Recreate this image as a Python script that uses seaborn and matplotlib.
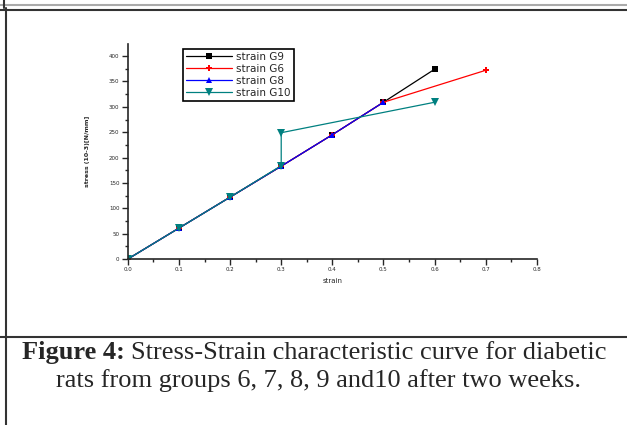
import matplotlib
matplotlib.use("Agg")
import matplotlib.pyplot as plt
import seaborn as sns
import pandas as pd
from matplotlib.lines import Line2D
from matplotlib.ticker import MultipleLocator

sns.set_style("ticks")
plt.rcParams['font.family'] = ['DejaVu Sans']

# data
strain_g9 = [0.0, 0.1, 0.2, 0.3, 0.4, 0.5, 0.6]
stress_g9 = [0, 61, 122, 183, 245, 309, 374]
strain_g6 = [0.0, 0.1, 0.2, 0.3, 0.4, 0.5, 0.7]
stress_g6 = [0, 61, 122, 183, 245, 309, 372]
strain_g8 = [0.0, 0.1, 0.2, 0.3, 0.4, 0.5]
stress_g8 = [0, 61, 122, 183, 245, 309]
strain_g10 = [0.0, 0.1, 0.2, 0.3, 0.3, 0.6]
stress_g10 = [0, 61, 122, 184, 249, 309]

labels = ["strain G9", "strain G6", "strain G8", "strain G10"]
series = [(strain_g9, stress_g9), (strain_g6, stress_g6), (strain_g8, stress_g8), (strain_g10, stress_g10)]
colors = ["#000000", "#ff0000", "#0000ff", "#008080"]
markers = ["s", "P", "^", "v"]
msizes = [4, 4, 5, 6]

fig = plt.figure(figsize=(6.27, 4.25), dpi=100)
ax = fig.add_axes([0.204, 0.3906, 0.652, 0.506])

for (xs, ys), lab, c, m, ms in zip(series, labels, colors, markers, msizes):
    df = pd.DataFrame({"strain": xs, "stress": ys})
    sns.lineplot(data=df, x="strain", y="stress", ax=ax, estimator=None, sort=False,
                 color=c, marker=m, markersize=ms, markeredgewidth=0, linewidth=0.9, label=lab)

ax.set_xlim(0, 0.8)
ax.set_ylim(0, 424)
ax.xaxis.set_major_locator(MultipleLocator(0.1))
ax.xaxis.set_minor_locator(MultipleLocator(0.05))
ax.yaxis.set_major_locator(MultipleLocator(50))
ax.yaxis.set_minor_locator(MultipleLocator(25))
ax.set_xticklabels([f"{v:.1f}" for v in ax.get_xticks()])
ax.tick_params(axis='both', which='major', labelsize=4, length=4, width=1, direction='out', pad=2)
ax.tick_params(axis='both', which='minor', length=2.5, width=1, direction='out')
for s in ['left', 'bottom']:
    ax.spines[s].set_linewidth(1.2)
sns.despine(ax=ax)
ax.set_xlabel("strain", fontsize=5, labelpad=4)
ax.set_ylabel("stress (10-3)[N/mm]", fontsize=4.5, fontweight='bold', labelpad=14)

leg = ax.legend(loc='upper left', bbox_to_anchor=(0.135, 0.978), fontsize=7.5, frameon=True,
                fancybox=False, edgecolor='black', framealpha=1, handlelength=4.4,
                borderpad=0.3, labelspacing=0.2, handletextpad=0.4, borderaxespad=0)
leg.get_frame().set_linewidth(1.2)

# page frame lines
fig.add_artist(Line2D([0, 1], [1 - 5/425, 1 - 5/425], color='#aaaaaa', lw=1.5, transform=fig.transFigure))
fig.add_artist(Line2D([0, 1], [1 - 10/425, 1 - 10/425], color='#333333', lw=1.5, transform=fig.transFigure))
fig.add_artist(Line2D([6/627, 6/627], [0, 1 - 8/425], color='#333333', lw=1.5, transform=fig.transFigure))
fig.add_artist(Line2D([4/627, 4/627], [1 - 8/425, 1], color='#333333', lw=1.5, transform=fig.transFigure))
fig.add_artist(Line2D([0, 1], [1 - 337/425, 1 - 337/425], color='#333333', lw=1.5, transform=fig.transFigure))

serif = ['Liberation Serif', 'DejaVu Serif']
fs = 19
t1 = fig.text(22/627, 1 - 353/425, "Figure 4:", family=serif, fontweight='bold', fontsize=fs, va='center', ha='left')
fig.canvas.draw()
bb = t1.get_window_extent()
fig.text((bb.x1 + 6)/627, 1 - 353/425, "Stress-Strain characteristic curve for diabetic",
         family=serif, fontsize=fs, va='center', ha='left')
fig.text(318/627, 1 - 381/425, "rats from groups 6, 7, 8, 9 and10 after two weeks.",
         family=serif, fontsize=fs, va='center', ha='center')

fig.savefig("out.png", dpi=100)
